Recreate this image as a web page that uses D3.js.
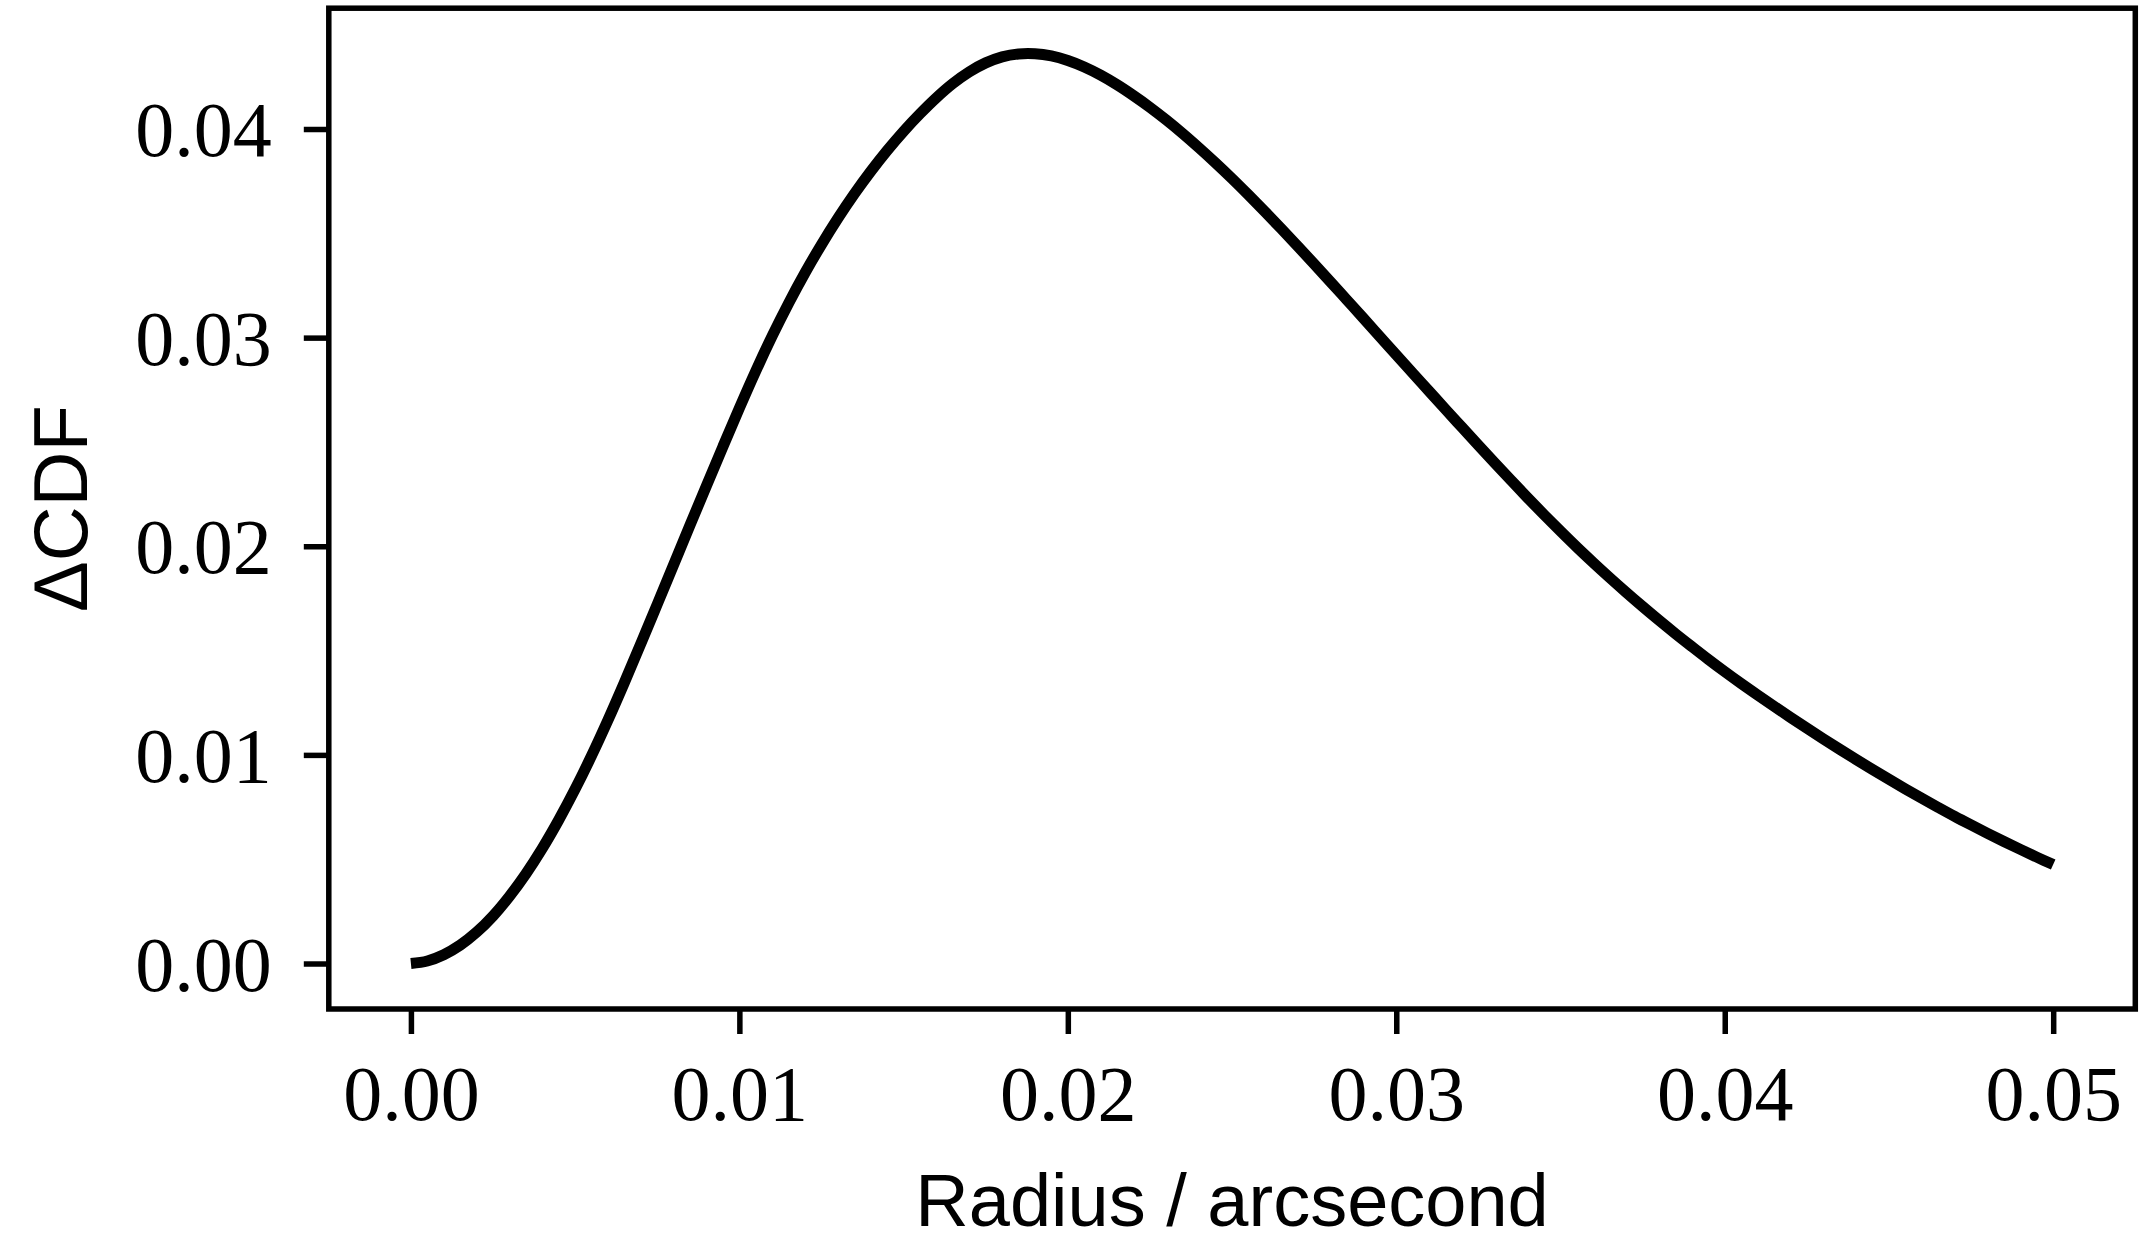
<!DOCTYPE html>
<html>
<head>
<meta charset="utf-8">
<script src="https://cdn.jsdelivr.net/npm/d3@7"></script>
<style>
  html, body { margin: 0; padding: 0; background: #ffffff; }
  svg { display: block; }
</style>
</head>
<body>
<svg id="chart" width="2152" height="1254"></svg>
<script>
// Radius samples (arcsecond)
const radius = [
  0.0000, 0.0005, 0.0010, 0.0015, 0.0020, 0.0025, 0.0030, 0.0035, 0.0040, 0.0045,
  0.0050, 0.0055, 0.0060, 0.0065, 0.0070, 0.0075, 0.0080, 0.0085, 0.0090, 0.0095,
  0.0100, 0.0105, 0.0110, 0.0115, 0.0120, 0.0125, 0.0130, 0.0135, 0.0140, 0.0145,
  0.0150, 0.0155, 0.0160, 0.0165, 0.0170, 0.0175, 0.0180, 0.0185, 0.0190, 0.0195,
  0.0200, 0.0205, 0.0210, 0.0215, 0.0220, 0.0225, 0.0230, 0.0235, 0.0240, 0.0245,
  0.0250, 0.0255, 0.0260, 0.0265, 0.0270, 0.0275, 0.0280, 0.0285, 0.0290, 0.0295,
  0.0300, 0.0305, 0.0310, 0.0315, 0.0320, 0.0325, 0.0330, 0.0335, 0.0340, 0.0345,
  0.0350, 0.0355, 0.0360, 0.0365, 0.0370, 0.0375, 0.0380, 0.0385, 0.0390, 0.0395,
  0.0400, 0.0405, 0.0410, 0.0415, 0.0420, 0.0425, 0.0430, 0.0435, 0.0440, 0.0445,
  0.0450, 0.0455, 0.0460, 0.0465, 0.0470, 0.0475, 0.0480, 0.0485, 0.0490, 0.0495,
  0.0500
];

// Difference of cumulative distributions at each radius
const deltaCDF = [
  0.00000, 0.00012, 0.00042, 0.00088, 0.00150, 0.00228, 0.00322, 0.00430, 0.00552, 0.00688,
  0.00836, 0.00996, 0.01167, 0.01347, 0.01533, 0.01722, 0.01912, 0.02102, 0.02291, 0.02478,
  0.02662, 0.02840, 0.03008, 0.03165, 0.03311, 0.03446, 0.03572, 0.03689, 0.03797, 0.03897,
  0.03989, 0.04073, 0.04150, 0.04218, 0.04274, 0.04317, 0.04346, 0.04360, 0.04361, 0.04350,
  0.04328, 0.04297, 0.04258, 0.04212, 0.04160, 0.04104, 0.04043, 0.03978, 0.03909, 0.03837,
  0.03762, 0.03684, 0.03604, 0.03522, 0.03438, 0.03353, 0.03267, 0.03180, 0.03093, 0.03005,
  0.02917, 0.02830, 0.02743, 0.02656, 0.02570, 0.02484, 0.02399, 0.02315, 0.02232, 0.02151,
  0.02072, 0.01995, 0.01921, 0.01849, 0.01779, 0.01711, 0.01645, 0.01581, 0.01519, 0.01458,
  0.01399, 0.01342, 0.01287, 0.01233, 0.01180, 0.01128, 0.01077, 0.01027, 0.00978, 0.00930,
  0.00883, 0.00837, 0.00792, 0.00748, 0.00705, 0.00664, 0.00624, 0.00585, 0.00547, 0.00510,
  0.00474
];

// Axis tick values
const xTicks = [0.00, 0.01, 0.02, 0.03, 0.04, 0.05];
const yTicks = [0.00, 0.01, 0.02, 0.03, 0.04];

const xLabel = "Radius / arcsecond";
const yLabel = "\u0394CDF";

const svg = d3.select("#chart");

const plotLeft = 328.8, plotRight = 2135.3, plotTop = 8.2, plotBottom = 1009;

// Axis limits padded by 5% of the data range, as in a default plot layout
const xMin = d3.min(radius), xMax = d3.max(radius);
const yMin = d3.min(deltaCDF), yMax = d3.max(deltaCDF);
const xPad = (xMax - xMin) * 0.05, yPad = (yMax - yMin) * 0.05;

const x = d3.scaleLinear().domain([xMin - xPad, xMax + xPad]).range([plotLeft, plotRight]);
const y = d3.scaleLinear().domain([yMin - yPad, yMax + yPad]).range([plotBottom, plotTop]);

const fmt = d3.format(".2f");
const tickFont = "'Liberation Serif', 'Times New Roman', serif";
const labelFont = "'Liberation Sans', Arial, sans-serif";

// Bottom axis
const gx = svg.append("g")
  .attr("transform", `translate(0,${plotBottom})`)
  .call(d3.axisBottom(x).tickValues(xTicks).tickFormat(fmt).tickSize(25).tickPadding(0));
gx.select(".domain").remove();
gx.selectAll(".tick line").attr("stroke", "#000").attr("stroke-width", 5.5);
gx.selectAll(".tick text")
  .attr("font-family", tickFont)
  .attr("font-size", 78)
  .attr("fill", "#000")
  .attr("dy", null)
  .attr("y", 111);

// Left axis
const gy = svg.append("g")
  .attr("transform", `translate(${plotLeft},0)`)
  .call(d3.axisLeft(y).tickValues(yTicks).tickFormat(fmt).tickSize(25).tickPadding(0));
gy.select(".domain").remove();
gy.selectAll(".tick line").attr("stroke", "#000").attr("stroke-width", 5.5);
gy.selectAll(".tick text")
  .attr("font-family", tickFont)
  .attr("font-size", 78)
  .attr("fill", "#000")
  .attr("x", -57)
  .attr("dy", "0.34em");

// Curve
const line = d3.line()
  .x((d, i) => x(radius[i]))
  .y(d => y(d))
  .curve(d3.curveCatmullRom.alpha(0.5));

svg.append("path")
  .datum(deltaCDF)
  .attr("d", line)
  .attr("fill", "none")
  .attr("stroke", "#000")
  .attr("stroke-width", 11)
  .attr("stroke-linecap", "butt")
  .attr("stroke-linejoin", "round");

// Plot frame
svg.append("rect")
  .attr("x", plotLeft)
  .attr("y", plotTop)
  .attr("width", plotRight - plotLeft)
  .attr("height", plotBottom - plotTop)
  .attr("fill", "none")
  .attr("stroke", "#000")
  .attr("stroke-width", 5.5);

// Axis titles
svg.append("text")
  .attr("x", (plotLeft + plotRight) / 2)
  .attr("y", 1226)
  .attr("text-anchor", "middle")
  .attr("font-family", labelFont)
  .attr("font-size", 74)
  .attr("fill", "#000")
  .text(xLabel);

svg.append("text")
  .attr("transform", `translate(87,${(plotTop + plotBottom) / 2}) rotate(-90)`)
  .attr("text-anchor", "middle")
  .attr("font-family", labelFont)
  .attr("font-size", 76)
  .attr("fill", "#000")
  .text(yLabel);
</script>
</body>
</html>
